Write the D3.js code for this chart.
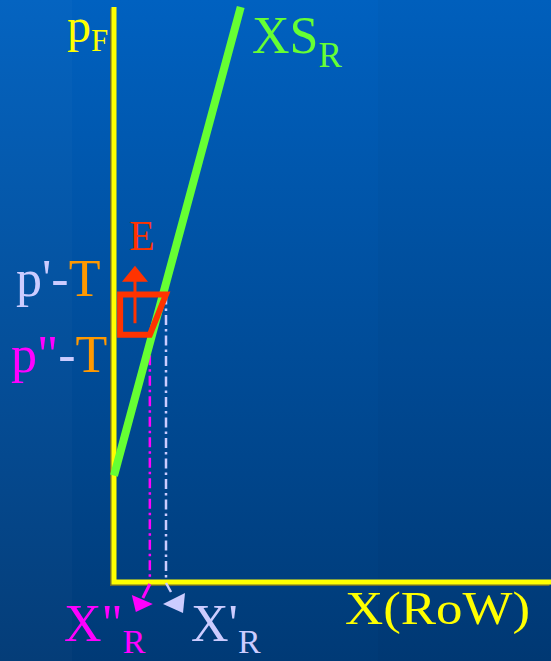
<!DOCTYPE html>
<html>
<head>
<meta charset="utf-8">
<script src="https://cdn.jsdelivr.net/npm/d3@7"></script>
<style>
  html, body { margin: 0; padding: 0; background: #004a94; }
  svg { display: block; }
  text { font-family: "Liberation Serif", "Times New Roman", serif; }
</style>
</head>
<body>
<div id="chart"></div>
<script>
(function(){

  // schematic values, quantity 0..100 and price 0..100
  var supply = [ [0, 18.5], [29, 100] ];      // XS_R
  var prices = { high: 50, low: 43 };          // p'-T, p''-T
  var quantities = { high: 11.9, low: 8.2 };   // X'_R, X''_R
  var boxLeft = 1.4;                           // left edge of the E box
  var arrowE = { x: 4.8, from: 45, to: 55 };   // E shift up

  var width = 551, height = 661;

  var x = d3.scaleLinear().domain([0, 100]).range([114, 551]);
  var y = d3.scaleLinear().domain([0, 100]).range([582, 7]);

  var svg = d3.select('#chart').append('svg')
    .attr('width', width)
    .attr('height', height);

  var defs = svg.append('defs');
  var grad = defs.append('linearGradient')
    .attr('id', 'bg').attr('x1', 0).attr('y1', 0).attr('x2', 0).attr('y2', 1);
  grad.append('stop').attr('offset', '0%').attr('stop-color', '#0061c0');
  grad.append('stop').attr('offset', '100%').attr('stop-color', '#003a76');

  svg.append('rect').attr('width', width).attr('height', height).attr('fill', 'url(#bg)');
  // faint vertical bands of the slide background
  svg.append('rect').attr('x', 0).attr('width', 72).attr('height', height)
    .attr('fill', '#ffffff').attr('opacity', 0.02);
  svg.append('rect').attr('x', 378).attr('width', width - 378).attr('height', height)
    .attr('fill', '#000000').attr('opacity', 0.02);

  var line = d3.line()
    .x(function(d){ return x(d[0]); })
    .y(function(d){ return y(d[1]); });

  // dash-dot drop lines to the quantity axis
  svg.append('path')
    .attr('d', line([ [quantities.high, prices.high], [quantities.high, 0] ]))
    .attr('stroke', '#ccccff').attr('stroke-width', 2.5)
    .attr('stroke-dasharray', '10,4,2.5,4').attr('fill', 'none');

  svg.append('path')
    .attr('d', line([ [quantities.low, prices.low], [quantities.low, 0] ]))
    .attr('stroke', '#ff00ff').attr('stroke-width', 2.5)
    .attr('stroke-dasharray', '10,4,2.5,4').attr('fill', 'none');

  // axes with a little shadow
  var axes = [ [0, 100], [0, 0], [100, 0] ];
  svg.append('path')
    .attr('d', line(axes))
    .attr('transform', 'translate(-1.5,1.5)')
    .attr('stroke', '#6a6a30').attr('stroke-width', 5).attr('fill', 'none');
  svg.append('path')
    .attr('d', line(axes))
    .attr('stroke', '#ffff00').attr('stroke-width', 5).attr('fill', 'none');

  // supply curve
  svg.append('path')
    .attr('d', line(supply))
    .attr('stroke', '#66ff33').attr('stroke-width', 8).attr('fill', 'none');

  // box between the two price levels
  var box = [
    [boxLeft, prices.high], [quantities.high, prices.high],
    [quantities.low, prices.low], [boxLeft, prices.low]
  ];
  svg.append('path')
    .attr('d', line(box) + 'Z')
    .attr('stroke', '#ff3300').attr('stroke-width', 6)
    .attr('stroke-linejoin', 'miter').attr('fill', 'none');

  // arrow E
  var ax = x(arrowE.x), ay0 = y(arrowE.from), ay1 = y(arrowE.to);
  svg.append('line')
    .attr('x1', ax).attr('x2', ax).attr('y1', ay0).attr('y2', ay1 + 14)
    .attr('stroke', '#ff3300').attr('stroke-width', 3);
  svg.append('path')
    .attr('d', 'M' + ax + ',' + ay1 + 'L' + (ax + 13) + ',' + (ay1 + 16) + 'L' + (ax - 13) + ',' + (ay1 + 16) + 'Z')
    .attr('fill', '#ff3300');

  // small arrows under the axis
  var xl = x(quantities.low), xh = x(quantities.high), y0 = y(0);
  svg.append('line')
    .attr('x1', xl).attr('y1', y0 + 2).attr('x2', xl - 7).attr('y2', y0 + 16)
    .attr('stroke', '#ff00ff').attr('stroke-width', 3);
  svg.append('path')
    .attr('d', 'M' + (xl - 18) + ',' + (y0 + 13) + 'L' + (xl + 3) + ',' + (y0 + 22) + 'L' + (xl - 14) + ',' + (y0 + 30) + 'Z')
    .attr('fill', '#ff00ff');

  svg.append('line')
    .attr('x1', xh).attr('y1', y0 + 1).attr('x2', xh + 5).attr('y2', y0 + 10)
    .attr('stroke', '#ccccff').attr('stroke-width', 2.5);
  svg.append('path')
    .attr('d', 'M' + (xh - 3) + ',' + (y0 + 22) + 'L' + (xh + 19) + ',' + (y0 + 11) + 'L' + (xh + 17) + ',' + (y0 + 31) + 'Z')
    .attr('fill', '#ccccff');

  // labels
  function label(tx, ty, parts){
    var t = svg.append('text').attr('x', tx).attr('y', ty);
    parts.forEach(function(p){
      var s = t.append('tspan').text(p.text).attr('fill', p.color).attr('font-size', p.size);
      if (p.dy) s.attr('dy', p.dy);
    });
    return t;
  }

  label(67, 42, [
    { text: 'p', color: '#ffff00', size: 48 },
    { text: 'F', color: '#ffff00', size: 31, dy: 9 }
  ]);

  label(252, 53, [
    { text: 'XS', color: '#66ff33', size: 52 },
    { text: 'R', color: '#66ff33', size: 35, dy: 14 }
  ]);

  label(129, 250, [ { text: 'E', color: '#ff3300', size: 42 } ]);

  label(16, 296, [
    { text: "p'-", color: '#ccccff', size: 52 },
    { text: 'T', color: '#ff9900', size: 52 }
  ]);

  label(11, 372, [
    { text: 'p"', color: '#ff00ff', size: 52 },
    { text: '-', color: '#ccccff', size: 52 },
    { text: 'T', color: '#ff9900', size: 52 }
  ]);

  label(64, 641, [
    { text: 'X"', color: '#ff00ff', size: 52 },
    { text: 'R', color: '#ff00ff', size: 34, dy: 12 }
  ]);

  label(191, 641, [
    { text: "X'", color: '#ccccff', size: 52 },
    { text: 'R', color: '#ccccff', size: 34, dy: 12 }
  ]);

  svg.append('text')
    .attr('x', 345).attr('y', 624)
    .attr('fill', '#ffff00').attr('font-size', 46)
    .attr('textLength', 185).attr('lengthAdjust', 'spacingAndGlyphs')
    .text('X(RoW)');

})();
</script>
</body>
</html>
